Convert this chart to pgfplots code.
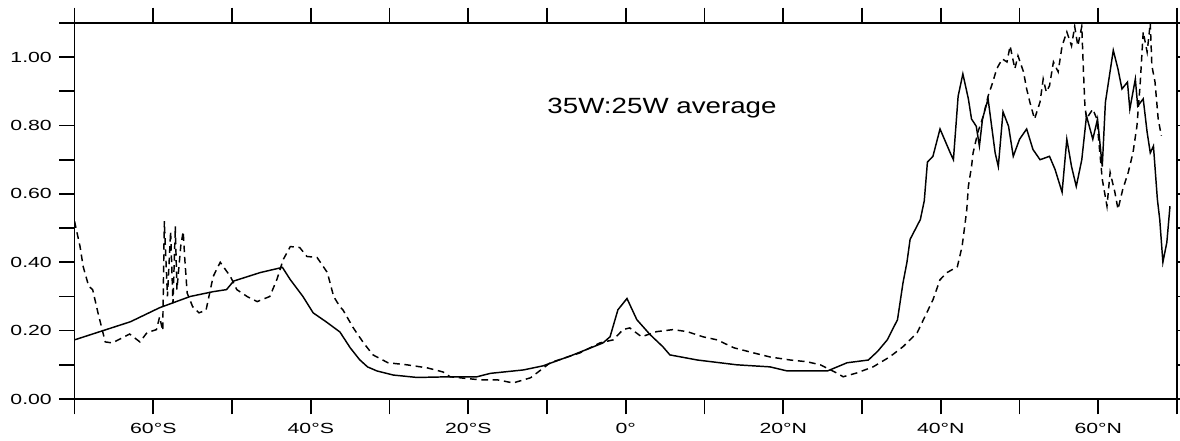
\documentclass[border=0pt]{standalone}
\usepackage{fontspec}
\setmainfont{Liberation Sans}[FakeStretch=1.45]
\newfontfamily\titlefont{Liberation Sans}[FakeStretch=1.26]
\usepackage{pgfplots}
\pgfplotsset{compat=1.18}
\begin{document}
\begin{tikzpicture}
\begin{axis}[
  at={(0,0)}, anchor=south west,
  scale only axis,
  width=826.9pt, height=282pt,
  xmin=-70, xmax=70, ymin=0, ymax=1.1,
  axis line style={line width=1.3pt},
  tick style={line width=1.3pt, black},
  tick pos=both, tick align=outside,
  major tick length=11.5pt,
  xtick={-70,-60,-50,-40,-30,-20,-10,0,10,20,30,40,50,60,70},
  xticklabels={,60°S,,40°S,,20°S,,0°,,20°N,,40°N,,60°N,},
  ytick={0,0.1,0.2,0.3,0.4,0.5,0.6,0.7,0.8,0.9,1.0,1.1},
  yticklabels={0.00,,0.20,,0.40,,0.60,,0.80,,1.00,},
  ticklabel style={font=\fontsize{11pt}{13pt}\selectfont},
  xticklabel style={yshift=-3pt},
  yticklabel style={xshift=-2pt},
]
\addplot[black, line width=1.1pt] coordinates {
(-70,0.173) (-62.9,0.226) (-59.2,0.267) (-55.3,0.300) (-52.4,0.314) (-50.7,0.320)
(-49.8,0.345) (-46.4,0.370) (-43.6,0.385) (-42.6,0.349) (-41,0.300) (-39.7,0.252)
(-38,0.225) (-36.3,0.196) (-35,0.150) (-33.8,0.115) (-32.8,0.094) (-31.6,0.082)
(-29.5,0.070) (-26.5,0.063) (-22.3,0.065) (-18.9,0.065) (-17.2,0.075) (-13,0.085)
(-10.5,0.097) (-6.7,0.129) (-2.9,0.164) (-2,0.182) (-1,0.261) (0.15,0.294)
(1.4,0.232) (3.1,0.188) (4.7,0.153) (5.6,0.129) (9.1,0.114) (14.1,0.100)
(18.3,0.094) (20.5,0.082) (25.6,0.082) (28.1,0.106) (30.8,0.114) (32,0.140)
(33.2,0.173) (34.5,0.232) (35.2,0.340) (35.7,0.400) (36.1,0.467) (37.4,0.525)
(37.9,0.580) (38.3,0.693) (39.0,0.710) (39.9,0.790) (41.2,0.720) (41.6,0.700)
(42.2,0.886) (42.8,0.951) (43.5,0.878) (43.9,0.819) (44.5,0.798) (44.9,0.740)
(45.3,0.820) (46.0,0.878) (46.5,0.790) (46.9,0.720) (47.3,0.680) (47.9,0.840)
(48.6,0.798) (49.2,0.710) (50.0,0.760) (50.9,0.790) (51.7,0.730) (52.6,0.700)
(53.8,0.710) (54.5,0.672) (55.4,0.605) (56.0,0.760) (56.6,0.680) (57.2,0.622)
(57.9,0.700) (58.5,0.828) (59.3,0.760) (59.9,0.819) (60.5,0.680) (60.9,0.868)
(61.9,1.020) (62.5,0.965) (63.0,0.907) (63.7,0.927) (64.0,0.848) (64.7,0.936)
(65.0,0.857) (65.7,0.878) (66.2,0.780) (66.6,0.720) (67.0,0.740) (67.5,0.584)
(67.8,0.525) (68.2,0.400) (68.7,0.458) (69.1,0.564)
};
\addplot[black, line width=1.1pt, dash pattern=on 5pt off 3.5pt] coordinates {
(-70,0.520) (-69.3,0.446) (-68.9,0.387) (-68.2,0.330) (-67.7,0.320) (-67,0.250)
(-66.1,0.167) (-65.2,0.164) (-63,0.190) (-61.7,0.167) (-60.8,0.194) (-59.6,0.203)
(-59.2,0.240) (-58.8,0.200) (-58.6,0.520) (-58.2,0.300) (-57.8,0.490) (-57.5,0.280)
(-57.2,0.505) (-57.0,0.320) (-56.5,0.450) (-56.2,0.490) (-56.0,0.410) (-55.7,0.310)
(-55,0.270) (-54.2,0.252) (-53.3,0.260) (-52.4,0.358) (-51.5,0.400) (-50.2,0.358)
(-49.4,0.320) (-48.1,0.300) (-46.8,0.285) (-45.2,0.300) (-44.3,0.350) (-43.5,0.408)
(-42.6,0.446) (-41.4,0.443) (-40.5,0.417) (-39.2,0.414) (-37.9,0.370) (-37.1,0.300)
(-36.3,0.270) (-35.9,0.260) (-34.6,0.208) (-33.3,0.164) (-32.1,0.129) (-30.2,0.106)
(-27.8,0.100) (-25.2,0.091) (-23.2,0.079) (-22.3,0.065) (-18.5,0.056) (-16.3,0.056)
(-14.3,0.047) (-12.1,0.062) (-11.3,0.076) (-9.6,0.106) (-5.8,0.135) (-3.3,0.164)
(-1.6,0.173) (-0.35,0.203) (0.5,0.208) (2.0,0.182) (3.9,0.197) (6.0,0.203)
(7.8,0.197) (9.8,0.182) (11.6,0.173) (13.7,0.150) (16.2,0.135) (18.3,0.123)
(20.9,0.114) (23.0,0.109) (24.7,0.100) (26.8,0.076) (27.6,0.065) (29.3,0.076)
(31.4,0.094) (33.5,0.123) (35.2,0.153) (37.0,0.194) (39.0,0.290) (39.9,0.349)
(40.8,0.370) (42.1,0.387) (42.7,0.446) (43.1,0.517) (43.3,0.555) (43.5,0.622)
(43.9,0.680) (44.1,0.720) (44.7,0.780) (45.4,0.828) (46.0,0.886) (46.6,0.927)
(47.1,0.966) (47.8,0.995) (48.4,0.986) (48.8,1.033) (49.4,0.966) (49.8,1.004)
(50.5,0.957) (50.9,0.907) (51.3,0.869) (51.9,0.819) (52.6,0.869) (53.0,0.936)
(53.4,0.898) (53.8,0.916) (54.3,0.986) (54.9,0.957) (55.4,1.033) (56.0,1.074)
(56.6,1.033) (57.0,1.090) (57.4,1.033) (57.9,1.090) (58.1,0.966) (58.3,0.857)
(58.5,0.820) (59.3,0.848) (59.8,0.820) (60.5,0.643) (61.1,0.564) (61.5,0.663)
(62.1,0.605) (62.5,0.555) (63.1,0.613) (63.8,0.663) (64.4,0.720) (64.9,0.798)
(65.3,0.916) (65.7,1.074) (66.2,1.015) (66.6,1.100) (66.8,0.975) (67.2,0.927)
(67.6,0.820) (68.0,0.770)
};
\node[anchor=base] at (axis cs:4.6,0.835) {\titlefont\fontsize{16.5pt}{18pt}\selectfont 35W:25W average};
\end{axis}
\pgfresetboundingbox
\path[use as bounding box] (-55.9pt,-31.5pt) rectangle ++(885pt,330.75pt);
\end{tikzpicture}
\end{document}
